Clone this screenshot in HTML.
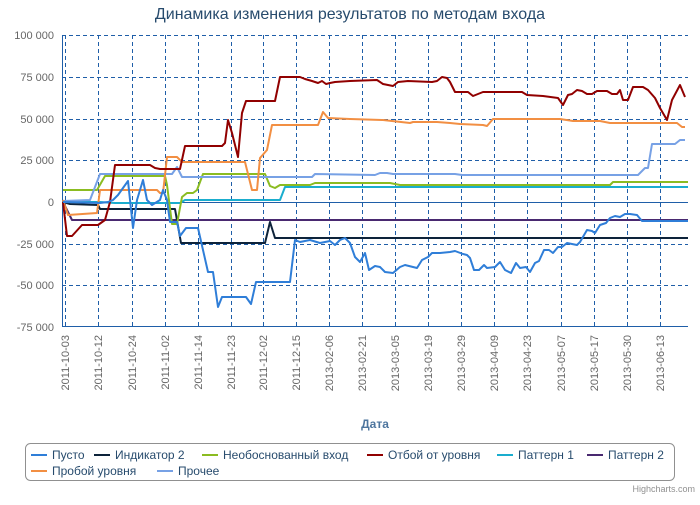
<!DOCTYPE html>
<html><head><meta charset="utf-8"><style>
body{margin:0;background:#fff}
text{font-family:"Liberation Sans","DejaVu Sans",sans-serif}
</style></head><body>
<svg width="700" height="500" xmlns="http://www.w3.org/2000/svg">
<text x="350" y="19" text-anchor="middle" font-size="16" fill="#274b6d">Динамика изменения результатов по методам входа</text>
<g stroke="#1f5ea8" stroke-width="1" stroke-dasharray="4,3" fill="none">
<line x1="62" y1="35.5" x2="688" y2="35.5"/><line x1="62" y1="77.5" x2="688" y2="77.5"/><line x1="62" y1="119.5" x2="688" y2="119.5"/><line x1="62" y1="160.5" x2="688" y2="160.5"/><line x1="62" y1="244.5" x2="688" y2="244.5"/><line x1="62" y1="285.5" x2="688" y2="285.5"/>
<line x1="65.5" y1="35" x2="65.5" y2="327"/><line x1="98.5" y1="35" x2="98.5" y2="327"/><line x1="132.5" y1="35" x2="132.5" y2="327"/><line x1="165.5" y1="35" x2="165.5" y2="327"/><line x1="198.5" y1="35" x2="198.5" y2="327"/><line x1="231.5" y1="35" x2="231.5" y2="327"/><line x1="263.5" y1="35" x2="263.5" y2="327"/><line x1="296.5" y1="35" x2="296.5" y2="327"/><line x1="329.5" y1="35" x2="329.5" y2="327"/><line x1="362.5" y1="35" x2="362.5" y2="327"/><line x1="395.5" y1="35" x2="395.5" y2="327"/><line x1="428.5" y1="35" x2="428.5" y2="327"/><line x1="461.5" y1="35" x2="461.5" y2="327"/><line x1="494.5" y1="35" x2="494.5" y2="327"/><line x1="527.5" y1="35" x2="527.5" y2="327"/><line x1="561.5" y1="35" x2="561.5" y2="327"/><line x1="594.5" y1="35" x2="594.5" y2="327"/><line x1="627.5" y1="35" x2="627.5" y2="327"/><line x1="660.5" y1="35" x2="660.5" y2="327"/>
</g>
<g stroke="#1f5ea8" stroke-width="1">
<line x1="62" y1="202.5" x2="688" y2="202.5"/><line x1="62" y1="326.5" x2="688" y2="326.5"/><line x1="62.5" y1="35" x2="62.5" y2="327"/>
</g>
<g font-size="11" fill="#666" text-anchor="end">
<text x="54" y="39">100 000</text><text x="54" y="81">75 000</text><text x="54" y="123">50 000</text><text x="54" y="164">25 000</text><text x="54" y="206">0</text><text x="54" y="248">-25 000</text><text x="54" y="289">-50 000</text><text x="54" y="331">-75 000</text>
</g>
<g font-size="11" fill="#666" text-anchor="end">
<text transform="translate(69,335) rotate(-90)">2011-10-03</text><text transform="translate(102,335) rotate(-90)">2011-10-12</text><text transform="translate(136,335) rotate(-90)">2011-10-24</text><text transform="translate(169,335) rotate(-90)">2011-11-02</text><text transform="translate(202,335) rotate(-90)">2011-11-14</text><text transform="translate(235,335) rotate(-90)">2011-11-23</text><text transform="translate(267,335) rotate(-90)">2011-12-02</text><text transform="translate(300,335) rotate(-90)">2011-12-15</text><text transform="translate(333,335) rotate(-90)">2013-02-06</text><text transform="translate(366,335) rotate(-90)">2013-02-21</text><text transform="translate(399,335) rotate(-90)">2013-03-05</text><text transform="translate(432,335) rotate(-90)">2013-03-19</text><text transform="translate(465,335) rotate(-90)">2013-03-29</text><text transform="translate(498,335) rotate(-90)">2013-04-09</text><text transform="translate(531,335) rotate(-90)">2013-04-23</text><text transform="translate(565,335) rotate(-90)">2013-05-07</text><text transform="translate(598,335) rotate(-90)">2013-05-17</text><text transform="translate(631,335) rotate(-90)">2013-05-30</text><text transform="translate(664,335) rotate(-90)">2013-06-13</text>
</g>
<text x="375" y="428" text-anchor="middle" font-size="12" font-weight="bold" fill="#4d759e">Дата</text>
<g fill="none" stroke-width="2" stroke-linejoin="round">
<polyline stroke="#492970" points="63,202 72,220 688,220"/>
<polyline stroke="#1aadce" points="63,202 100,202 115,203 180,203 185,200 280,200 285,187 688,187"/>
<polyline stroke="#0d233a" points="63,202 70,204 98,205 100,209 175,209 181,243 265,243 270,222 275,238 688,238"/>
<polyline stroke="#8bbc21" points="63,190 97,190 105,176 165,176 167,185 172,224 177,224 182,197 187,193 193,193 197,190 203,174 265,174 270,186 275,188 280,185 310,185 315,183 390,183 400,185 610,185 613,182 688,182"/>
<polyline stroke="#77a1e5" points="63,201 90,200 95,187 100,174 172,174 177,167 182,177 312,177 315,174 375,175 380,173 387,173 393,174 455,174 462,175 638,175 645,168 648,168 652,144 675,144 680,140 685,140"/>
<polyline stroke="#f28f43" points="63,200 68,215 97,213 100,190 157,190 160,193 163,193 167,157 177,157 182,162 245,162 252,190 257,190 260,158 267,150 272,125 318,125 323,112 328,118 350,119 383,120 410,123 413,122 437,122 450,123 460,124 483,125 487,126 493,119 560,119 573,121 600,121 610,123 677,123 682,127 685,127"/>
<polyline stroke="#910000" points="63,202 67,236 72,236 82,225 98,225 105,220 110,202 115,165 150,165 155,168 160,169 180,169 185,146 222,146 225,143 228,120 232,133 238,157 242,113 246,101 275,101 280,77 300,77 305,79 312,81 318,83 322,81 326,84 330,83 335,82 350,81 377,80 383,84 393,86 398,82 408,81 432,82 437,81 442,77 447,78 450,82 455,92 468,92 473,96 483,92 522,92 527,95 543,96 558,98 563,105 568,95 572,94 577,90 582,91 587,94 592,94 597,91 607,91 612,94 617,94 620,90 623,100 628,100 633,87 643,87 648,90 655,98 660,108 667,120 672,100 680,85 685,97"/>
<polyline stroke="#2f7ed8" points="63,202 100,203 108,202 113,200 118,195 128,181 133,228 137,200 143,180 147,200 152,205 160,200 163,190 167,200 170,222 177,222 180,236 186,228 198,228 208,272 213,272 218,307 222,297 246,297 251,304 256,282 290,282 295,240 300,242 310,240 320,243 330,241 335,245 340,240 345,238 350,243 355,257 360,262 365,253 369,270 375,266 380,267 385,272 393,273 400,267 405,265 417,268 422,260 428,257 432,253 440,253 450,252 455,251 463,254 467,255 470,258 474,270 479,270 484,265 487,268 495,267 500,262 505,270 511,273 516,263 520,268 526,267 530,272 535,263 539,261 544,250 549,250 553,253 558,247 562,247 567,243 572,244 577,245 580,242 587,230 592,231 595,233 600,225 606,223 610,218 615,216 620,217 625,214 630,214 637,215 642,221 688,221"/>
</g>
<rect x="25.5" y="443.5" width="649" height="37" rx="5" fill="none" stroke="#909090"/>
<g font-size="12" fill="#274b6d">
<line x1="31" y1="455" x2="47" y2="455" stroke="#2f7ed8" stroke-width="2"/><text x="52" y="459">Пусто</text>
<line x1="94" y1="455" x2="110" y2="455" stroke="#0d233a" stroke-width="2"/><text x="115" y="459">Индикатор 2</text>
<line x1="202" y1="455" x2="218" y2="455" stroke="#8bbc21" stroke-width="2"/><text x="223" y="459">Необоснованный вход</text>
<line x1="367" y1="455" x2="383" y2="455" stroke="#910000" stroke-width="2"/><text x="388" y="459">Отбой от уровня</text>
<line x1="497" y1="455" x2="513" y2="455" stroke="#1aadce" stroke-width="2"/><text x="518" y="459">Паттерн 1</text>
<line x1="587" y1="455" x2="603" y2="455" stroke="#492970" stroke-width="2"/><text x="608" y="459">Паттерн 2</text>
<line x1="31" y1="471" x2="47" y2="471" stroke="#f28f43" stroke-width="2"/><text x="52" y="475">Пробой уровня</text>
<line x1="157" y1="471" x2="173" y2="471" stroke="#77a1e5" stroke-width="2"/><text x="178" y="475">Прочее</text>
</g>
<text x="695" y="492" text-anchor="end" font-size="9" fill="#909090">Highcharts.com</text>
</svg>
</body></html>
